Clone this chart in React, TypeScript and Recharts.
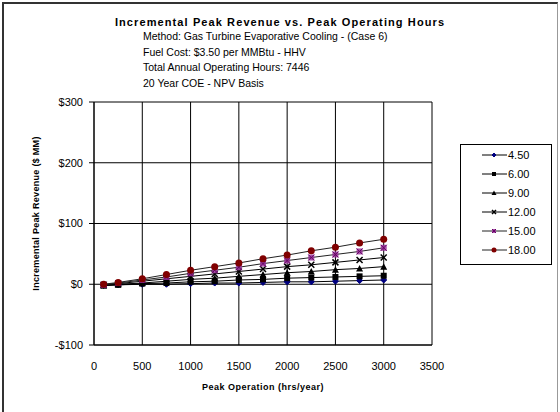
import React from 'react';
import {
  LineChart,
  Line,
  XAxis,
  YAxis,
  CartesianGrid,
} from 'recharts';

const hours = [100, 250, 500, 750, 1000, 1250, 1500, 1750, 2000, 2250, 2500, 2750, 3000];

const rev450 = [-2, -1, 0, 0, 1, 2, 2, 3, 4, 4, 5, 6, 7];
const rev600 = [-2, -1, 1, 2, 4, 5, 7, 8, 10, 11, 12, 13, 14];
const rev900 = [-2, 0, 2, 5, 8, 10, 13, 16, 19, 21, 24, 26, 29];
const rev1200 = [-1, 1, 5, 9, 13, 17, 21, 25, 29, 32, 36, 40, 44];
const rev1500 = [-1, 2, 7, 12, 18, 23, 28, 34, 39, 44, 49, 54, 60];
const rev1800 = [0, 3, 9, 16, 23, 29, 35, 42, 48, 55, 61, 68, 74];

const xTicks = [0, 500, 1000, 1500, 2000, 2500, 3000, 3500];
const yTicks = [-100, 0, 100, 200, 300];

const subtitleLines = [
  'Method: Gas Turbine Evaporative Cooling - (Case 6)',
  'Fuel Cost:  $3.50 per MMBtu - HHV',
  'Total Annual Operating Hours: 7446',
  '20 Year COE - NPV Basis',
];

const FONT = '"Liberation Sans", Arial, sans-serif';

type Kind = 'diamond' | 'square' | 'triangle' | 'cross' | 'starsq' | 'circle';

const seriesDefs: { key: string; name: string; values: number[]; kind: Kind; color: string; line: string }[] = [
  { key: 's450', name: '4.50', values: rev450, kind: 'diamond', color: '#000080', line: '#000' },
  { key: 's600', name: '6.00', values: rev600, kind: 'square', color: '#000', line: '#000' },
  { key: 's900', name: '9.00', values: rev900, kind: 'triangle', color: '#000', line: '#000' },
  { key: 's1200', name: '12.00', values: rev1200, kind: 'cross', color: '#000', line: '#000' },
  { key: 's1500', name: '15.00', values: rev1500, kind: 'starsq', color: '#993399', line: '#222' },
  { key: 's1800', name: '18.00', values: rev1800, kind: 'circle', color: '#800000', line: '#222' },
];

const data = hours.map((h, i) => {
  const row: any = { hours: h };
  seriesDefs.forEach(s => { row[s.key] = s.values[i]; });
  return row;
});

const Marker = ({ cx, cy, kind, color, r = 3 }: { cx: number; cy: number; kind: Kind; color: string; r?: number }) => {
  if (cx == null || cy == null) return null;
  switch (kind) {
    case 'diamond':
      return <path d={`M${cx},${cy - r}L${cx + r},${cy}L${cx},${cy + r}L${cx - r},${cy}Z`} fill={color} stroke={color} />;
    case 'square':
      return <rect x={cx - r} y={cy - r} width={2 * r} height={2 * r} fill={color} />;
    case 'triangle':
      return <path d={`M${cx},${cy - r - 0.5}L${cx + r + 0.5},${cy + r}L${cx - r - 0.5},${cy + r}Z`} fill={color} />;
    case 'cross':
      return <path d={`M${cx - r},${cy - r}L${cx + r},${cy + r}M${cx + r},${cy - r}L${cx - r},${cy + r}`} stroke={color} strokeWidth={1.5} />;
    case 'starsq':
      return (
        <g>
          <rect x={cx - r} y={cy - r} width={2 * r} height={2 * r} fill={color} opacity={0.85} />
          <path d={`M${cx - r},${cy - r}L${cx + r},${cy + r}M${cx + r},${cy - r}L${cx - r},${cy + r}`} stroke="#660066" strokeWidth={1} />
        </g>
      );
    default:
      return <circle cx={cx} cy={cy} r={r + 0.5} fill={color} />;
  }
};

const LegendBox = () => (
  <div
    style={{
      position: 'absolute',
      left: 460,
      top: 144,
      width: 90,
      height: 119,
      border: '1px solid #000',
      background: '#fff',
      fontFamily: FONT,
      fontSize: 11,
    }}
  >
    {seriesDefs.map(s => (
      <div key={s.key} style={{ display: 'flex', alignItems: 'center', height: 19 }}>
        <svg width={47} height={12} style={{ display: 'block' }}>
          <line x1={21} y1={6} x2={46} y2={6} stroke={s.line} strokeWidth={1} />
          <Marker cx={33} cy={6} kind={s.kind} color={s.color} r={2} />
        </svg>
        <span style={{ color: '#000' }}>{s.name}</span>
      </div>
    ))}
  </div>
);

const fmtMoney = (v: number) => (v < 0 ? `-$${Math.abs(v)}` : `$${v}`);

export default function App() {
  return (
    <div
      style={{
        position: 'absolute',
        left: 0,
        top: 0,
        width: 560,
        height: 412,
        background: '#fff',
        fontFamily: FONT,
        overflow: 'hidden',
      }}
    >
      <div
        style={{
          position: 'absolute',
          left: 2,
          top: 2,
          width: 553,
          height: 420,
          borderLeft: '2px solid #333',
          borderTop: '2px solid #333',
          borderRight: '1px solid #999',
        }}
      />
      <div
        style={{
          position: 'absolute',
          left: 0,
          width: 560,
          top: 16,
          textAlign: 'center',
          fontSize: 11,
          fontWeight: 'bold',
          letterSpacing: 1.1,
          color: '#000',
        }}
      >
        Incremental Peak Revenue vs. Peak Operating Hours
      </div>
      {subtitleLines.map((t, i) => (
        <div
          key={i}
          style={{
            position: 'absolute',
            left: 143,
            top: 30 + i * 15.5,
            fontSize: 10.5,
            color: '#000',
            whiteSpace: 'nowrap',
          }}
        >
          {t}
        </div>
      ))}
      <div style={{ position: 'absolute', left: 0, top: 0 }}>
        <LineChart
          width={560}
          height={412}
          data={data}
          margin={{ top: 102, right: 128, bottom: 7, left: 34 }}
        >
          <CartesianGrid stroke="#000" strokeWidth={1} />
          <XAxis
            dataKey="hours"
            type="number"
            domain={[0, 3500]}
            ticks={xTicks}
            interval={0}
            height={60}
            tickLine={false}
            axisLine={{ stroke: '#000' }}
            tickSize={5}
            tickMargin={12}
            tick={{ fontSize: 11, fill: '#000', fontFamily: FONT }}
            label={{
              value: 'Peak Operation (hrs/year)',
              position: 'insideBottom',
              offset: 15,
              style: { fontSize: 9, fontWeight: 'bold', fill: '#000', fontFamily: FONT, letterSpacing: 0.5 },
            }}
          />
          <YAxis
            type="number"
            domain={[-100, 300]}
            ticks={yTicks}
            interval={0}
            width={60}
            tickFormatter={fmtMoney}
            axisLine={{ stroke: '#000' }}
            tickLine={{ stroke: '#000' }}
            tickSize={5}
            tickMargin={6}
            tick={{ fontSize: 11, fill: '#000', fontFamily: FONT }}
            label={{
              value: 'Incremental Peak Revenue ($ MM)',
              angle: -90,
              position: 'insideLeft',
              offset: 2,
              dy: -10,
              style: { textAnchor: 'middle', fontSize: 9, fontWeight: 'bold', fill: '#000', fontFamily: FONT, letterSpacing: 0.3 },
            }}
          />
          {seriesDefs.map(s => (
            <Line
              key={s.key}
              dataKey={s.key}
              name={s.name}
              type="linear"
              stroke={s.line}
              strokeWidth={1}
              isAnimationActive={false}
              dot={(p: any) => <Marker key={`${s.key}-${p.index}`} cx={p.cx} cy={p.cy} kind={s.kind} color={s.color} />}
              activeDot={false}
            />
          ))}
        </LineChart>
      </div>
      <LegendBox />
    </div>
  );
}
